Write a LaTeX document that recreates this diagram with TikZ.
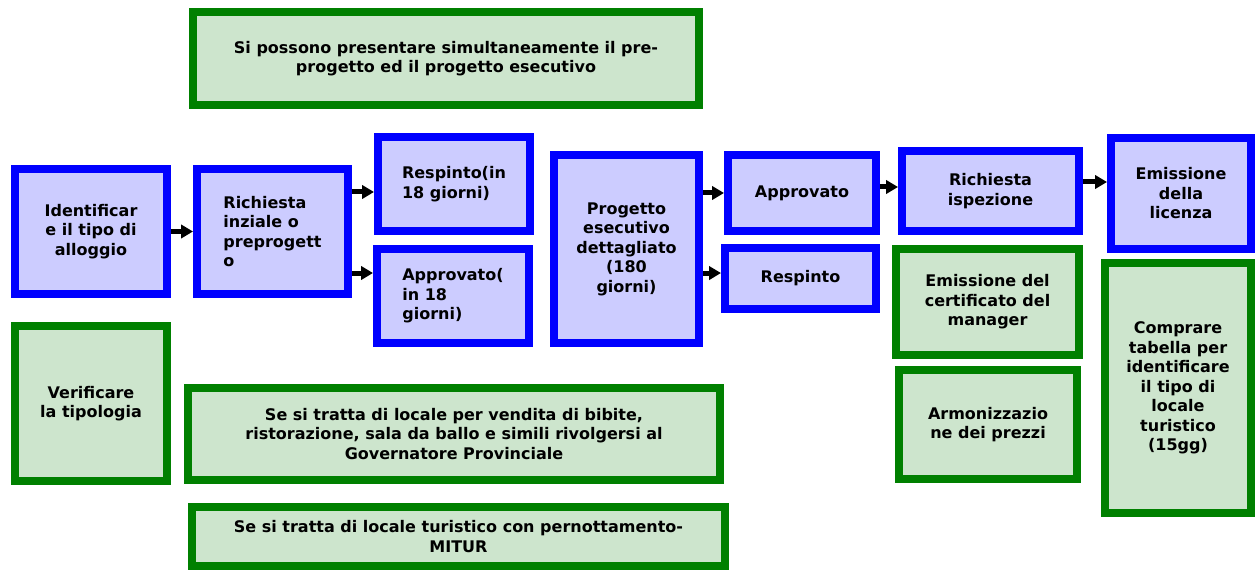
\documentclass[tikz,border=0pt]{standalone}
\usepackage{fontspec}
\setmainfont{DejaVu Sans}
\usepackage{tikz}
\usetikzlibrary{arrows.meta}

\definecolor{bluebd}{RGB}{0,0,255}
\definecolor{bluefl}{RGB}{204,204,255}
\definecolor{greenbd}{RGB}{0,128,0}
\definecolor{greenfl}{RGB}{205,229,205}

\tikzset{
  bluebox/.style={draw=bluebd,fill=bluefl,line width=6pt,inner sep=0pt,
    font=\bfseries\fontsize{12}{14.6}\selectfont},
  greenbox/.style={draw=greenbd,fill=greenfl,line width=6pt,inner sep=0pt,
    font=\bfseries\fontsize{12}{14.6}\selectfont},
  arr/.style={line width=3.75pt,-{Triangle[length=9pt,width=10pt]}}
}

\begin{document}
\begin{tikzpicture}[x=0.75pt,y=0.75pt,yscale=-1,xscale=1]
\useasboundingbox (0,0) rectangle (1255,570);

%Shape: Rectangle [id:pre] 
\node (pre) at (446,58.5) [greenbox,minimum width=379.5pt,minimum height=69.75pt,align=center] {Si possono presentare simultaneamente il pre-\\progetto ed il progetto esecutivo};
%Shape: Rectangle [id:idt] 
\node (idt) at (91,231.5) [bluebox,minimum width=114pt,minimum height=93.75pt,align=center] {Identificar\\e il tipo di\\alloggio};
%Shape: Rectangle [id:rin] 
\node (rin) at (272.5,231.5) [bluebox,minimum width=113.25pt,minimum height=93.75pt,align=left] {Richiesta\\inziale o\\preprogett\\o};
%Shape: Rectangle [id:rsp] 
\node (rsp) at (454,184) [bluebox,minimum width=114pt,minimum height=70.5pt,align=left] {Respinto(in\\18 giorni)};
%Shape: Rectangle [id:app] 
\node (app) at (453,296) [bluebox,minimum width=114pt,minimum height=70.5pt,align=left] {Approvato(\\in 18\\giorni)};
%Shape: Rectangle [id:prog] 
\node (prog) at (626.5,249) [bluebox,minimum width=108.75pt,minimum height=141pt,align=center] {Progetto\\esecutivo\\dettagliato\\(180\\giorni)};
%Shape: Rectangle [id:apv] 
\node (apv) at (802,193) [bluebox,minimum width=111pt,minimum height=57pt] {Approvato};
%Shape: Rectangle [id:rsp2] 
\node (rsp2) at (800.5,278.5) [bluebox,minimum width=113.25pt,minimum height=45.75pt] {Respinto};
%Shape: Rectangle [id:isp] 
\node (isp) at (990.5,191) [bluebox,minimum width=132.75pt,minimum height=60pt,align=center] {Richiesta\\ispezione};
%Shape: Rectangle [id:lic] 
\node (lic) at (1181,193.5) [bluebox,minimum width=105pt,minimum height=83.25pt,align=center] {Emissione\\della\\licenza};
%Shape: Rectangle [id:cert] 
\node (cert) at (987.5,302) [greenbox,minimum width=137.25pt,minimum height=79.5pt,align=center] {Emissione del\\certificato del\\manager};
%Shape: Rectangle [id:arm] 
\node (arm) at (988,424.5) [greenbox,minimum width=133.5pt,minimum height=81.75pt,align=center] {Armonizzazio\\ne dei prezzi};
%Shape: Rectangle [id:cmp] 
\node (cmp) at (1178,388) [greenbox,minimum width=109.5pt,minimum height=187.5pt,align=center] {Comprare\\tabella per\\identificare\\il tipo di\\locale\\turistico\\(15gg)};
%Shape: Rectangle [id:ver] 
\node (ver) at (91,403.5) [greenbox,minimum width=114pt,minimum height=116.25pt,align=center] {Verificare\\la tipologia};
%Shape: Rectangle [id:gov] 
\node (gov) at (454,434) [greenbox,minimum width=399pt,minimum height=69pt,align=center] {Se si tratta di locale per vendita di bibite,\\ristorazione, sala da ballo e simili rivolgersi al\\Governatore Provinciale};
%Shape: Rectangle [id:mit] 
\node (mit) at (458.5,536.5) [greenbox,minimum width=399.75pt,minimum height=44.25pt,align=center] {Se si tratta di locale turistico con pernottamento-\\MITUR};

%Arrow levels
\coordinate (a1) at ([yshift=6pt]rsp.west -| rin.east);
\coordinate (a2) at ([yshift=-17.25pt]app.west -| rin.east);
\coordinate (a3) at ([yshift=-4.1pt]rsp2.west -| prog.east);
\coordinate (a4) at ([yshift=-4.5pt]apv.east);
\coordinate (a5) at ([yshift=-6.75pt]isp.east);

%Straight Lines
\draw[arr] (idt) -- (rin);
\draw[arr] (a1) -- (a1 -| rsp.west);
\draw[arr] (a2) -- (a2 -| app.west);
\draw[arr] (apv.west -| prog.east) -- (apv.west);
\draw[arr] (a3) -- (a3 -| rsp2.west);
\draw[arr] (a4) -- (a4 -| isp.west);
\draw[arr] (a5) -- (a5 -| lic.west);

\end{tikzpicture}
\end{document}
